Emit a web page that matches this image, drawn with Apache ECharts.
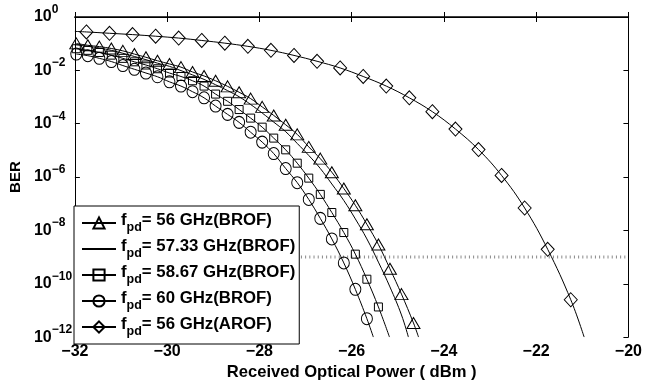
<!DOCTYPE html>
<html>
<head>
<meta charset="utf-8">
<script src="https://cdn.jsdelivr.net/npm/echarts@6/dist/echarts.min.js"></script>
<style>
  html, body { margin: 0; padding: 0; background: #fff; }
  #chart { width: 645px; height: 386px; }
</style>
</head>
<body>
<div id="chart"></div>
<script>
// received optical power (dBm) at the marker positions
var brofX = [-31.97, -31.72, -31.47, -31.21, -30.96, -30.71, -30.46, -30.21, -29.95, -29.70,
             -29.45, -29.20, -28.95, -28.69, -28.44, -28.19, -27.94, -27.69, -27.43, -27.18,
             -26.93, -26.68, -26.43, -26.17, -25.92, -25.67, -25.42, -25.17, -24.92, -24.66];
var arofX = [-31.75, -31.25, -30.75, -30.25, -29.75, -29.25, -28.75, -28.25, -27.75, -27.25, -26.75,
             -26.25, -25.75, -25.25, -24.75, -24.25, -23.75, -23.25, -22.75, -22.25, -21.75, -21.25];

// BER as log10 values
var ber56 = [-0.99, -1.06, -1.11, -1.18, -1.27, -1.39, -1.51, -1.64, -1.76, -1.88,
             -2.06, -2.21, -2.39, -2.60, -2.82, -3.06, -3.37, -3.69, -4.04, -4.40,
             -4.87, -5.31, -5.82, -6.43, -7.06, -7.77, -8.53, -9.44, -10.39, -11.47];
var ber5733 = [-1.04, -1.10, -1.16, -1.25, -1.36, -1.48, -1.60, -1.73, -1.85, -2.01,
               -2.17, -2.34, -2.54, -2.76, -2.99, -3.28, -3.60, -3.94, -4.30, -4.74,
               -5.19, -5.68, -6.26, -6.88, -7.57, -8.32, -9.19, -10.12, -11.17];
var ber5867 = [-1.19, -1.25, -1.33, -1.43, -1.55, -1.68, -1.80, -1.94, -2.10, -2.23,
               -2.39, -2.59, -2.89, -3.16, -3.47, -3.79, -4.13, -4.54, -4.98, -5.48,
               -6.04, -6.65, -7.33, -8.08, -8.89, -9.83, -10.87];
var ber60 = [-1.39, -1.45, -1.55, -1.67, -1.82, -1.96, -2.10, -2.24, -2.43, -2.59,
             -2.80, -3.03, -3.34, -3.65, -3.95, -4.32, -4.69, -5.12, -5.68, -6.21,
             -6.84, -7.55, -8.32, -9.22, -10.21, -11.31];
var berArof = [-0.56, -0.61, -0.66, -0.72, -0.79, -0.88, -0.98, -1.10, -1.25, -1.44, -1.66,
               -1.91, -2.23, -2.59, -3.03, -3.55, -4.20, -4.97, -5.94, -7.16, -8.71, -10.6];

// where each curve leaves the bottom of the plot (BER 1e-12)
var endX = [-24.55, -24.77, -25.18, -25.53, -20.96];
var arofStart = [-32, -0.54];
var limitBer = -9;           // dotted 1e-9 reference line
var limitFrom = -27.1;

var legendText = ['= 56 GHz(BROF)', '= 57.33 GHz(BROF)', '= 58.67 GHz(BROF)', '= 60 GHz(BROF)', '= 56 GHz(AROF)'];

var font = '"Liberation Sans", Arial, sans-serif';
var names = legendText.map(function (t) { return 'fpd' + t; });

function pts(xs, ys, tailX, head) {
    var d = [];
    if (head) d.push({ value: head, symbol: 'none' });
    for (var i = 0; i < ys.length; i++) d.push([xs[i], ys[i]]);
    d.push({ value: [tailX, -12], symbol: 'none' });
    return d;
}

function curve(i, data, symbol, size) {
    return {
        name: names[i],
        type: 'line',
        data: data,
        smooth: 0.4,
        symbol: symbol,
        symbolSize: size,
        showAllSymbol: true,
        lineStyle: { color: '#000', width: 1 },
        itemStyle: { color: 'rgba(0,0,0,0)', borderColor: '#000', borderWidth: 1 },
        emphasis: { disabled: true },
        z: 3
    };
}

var chart = echarts.init(document.getElementById('chart'));

var option = {
    animation: false,
    grid: { left: 72, right: 9, top: 17, bottom: 41 },
    xAxis: [
        {
            type: 'value',
            min: -32,
            max: -20,
            interval: 2,
            name: 'Received Optical Power ( dBm )',
            nameLocation: 'middle',
            nameGap: 23,
            nameTextStyle: { fontFamily: font, fontWeight: 'bold', fontSize: 16.6, color: '#000' },
            axisLine: { lineStyle: { color: '#000', width: 1 } },
            axisTick: { inside: true, length: 5, lineStyle: { color: '#000' } },
            axisLabel: {
                margin: 6,
                fontFamily: font, fontWeight: 'bold', fontSize: 16, color: '#000',
                formatter: function (v) { return String(v).replace('-', '\u2212'); }
            },
            splitLine: { show: false }
        },
        {
            type: 'value',
            position: 'top',
            min: -32,
            max: -20,
            interval: 2,
            axisLine: { lineStyle: { color: '#000', width: 1.5 } },
            axisTick: { inside: true, length: 5, lineStyle: { color: '#000' } },
            axisLabel: { show: false },
            splitLine: { show: false }
        }
    ],
    yAxis: [
        {
            type: 'value',
            min: -12,
            max: 0,
            interval: 2,
            name: 'BER',
            nameLocation: 'middle',
            nameGap: 48,
            nameTextStyle: { fontFamily: font, fontWeight: 'bold', fontSize: 15, color: '#000' },
            axisLine: { show: true, lineStyle: { color: '#000', width: 1 } },
            axisTick: { show: true, inside: true, length: 5, lineStyle: { color: '#000' } },
            axisLabel: {
                align: 'left',
                margin: 41,
                formatter: function (v) {
                    return '{b|10}{e|' + (v === 0 ? '0' : '\u2212' + (-v)) + '}';
                },
                rich: {
                    b: { fontFamily: font, fontWeight: 'bold', fontSize: 16, color: '#000', lineHeight: 27, verticalAlign: 'middle' },
                    e: { fontFamily: font, fontWeight: 'bold', fontSize: 12, color: '#000', lineHeight: 27, verticalAlign: 'top' }
                }
            },
            splitLine: { show: false }
        },
        {
            type: 'value',
            position: 'right',
            min: -12,
            max: 0,
            interval: 2,
            axisLine: { show: true, lineStyle: { color: '#000', width: 1 } },
            axisTick: { show: true, inside: true, length: 5, lineStyle: { color: '#000' } },
            axisLabel: { show: false },
            splitLine: { show: false }
        }
    ],
    legend: {
        data: names.map(function (n, i) {
            // the 57.33 GHz curve has no markers, so its key is a bare line
            return i === 1
                ? { name: n, itemStyle: { color: 'rgba(0,0,0,0)', borderColor: 'rgba(0,0,0,0)', borderWidth: 0 } }
                : { name: n };
        }),
        orient: 'vertical',
        left: 74,
        top: 206,
        padding: [6, 4, 6, 7],
        itemGap: 4,
        itemWidth: 34,
        itemHeight: 14,
        backgroundColor: '#fff',
        borderColor: '#000',
        borderWidth: 1,
        z: 10,
        selectedMode: false,
        formatter: function (name) {
            return '{t|f}{s|pd}{t|' + legendText[names.indexOf(name)] + '}';
        },
        textStyle: {
            rich: {
                t: { fontFamily: font, fontWeight: 'bold', fontSize: 16.8, color: '#000', lineHeight: 22, verticalAlign: 'top' },
                s: { fontFamily: font, fontWeight: 'bold', fontSize: 12.5, color: '#000', lineHeight: 22, verticalAlign: 'bottom' }
            }
        }
    },
    series: [
        curve(0, pts(brofX, ber56, endX[0]), 'triangle', [13, 11]),
        curve(1, pts(brofX, ber5733, endX[1]), 'none', 0),
        curve(2, pts(brofX, ber5867, endX[2]), 'rect', [8, 8]),
        curve(3, pts(brofX, ber60, endX[3]), 'circle', [11, 12]),
        curve(4, pts(arofX, berArof, endX[4], arofStart), 'diamond', [13, 14]),
        {
            type: 'line',
            data: [[limitFrom, limitBer], [-20, limitBer]],
            symbol: 'none',
            silent: true,
            lineStyle: { color: '#888', width: 3, type: [1, 3.2] },
            z: 2
        }
    ]
};

chart.setOption(option);
</script>
</body>
</html>
